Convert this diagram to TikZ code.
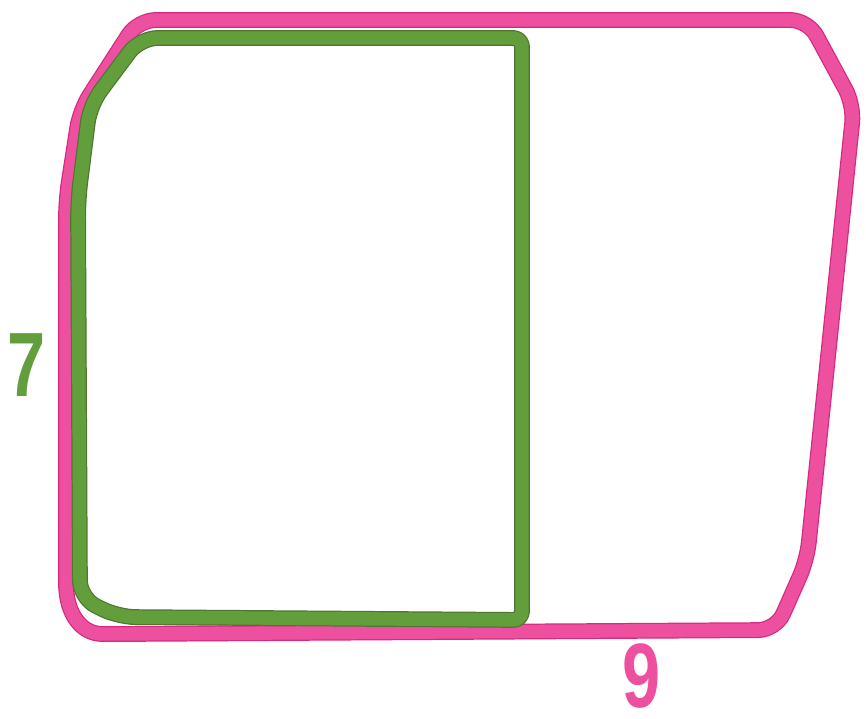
\documentclass[tikz,border=0pt]{standalone}
\usepackage{fontspec}
\newfontfamily\digitfont{Liberation Sans}
\definecolor{rimpink}{RGB}{238,80,160}
\definecolor{rimedge}{RGB}{214,40,128}
\definecolor{leafgreen}{RGB}{98,158,60}
\definecolor{leafedge}{RGB}{78,118,50}

\begin{document}
\begin{tikzpicture}[x=0.02cm,y=-0.02cm,
    outline/.style={line width=9pt, rounded corners=10pt, line join=round},
    stroke/.style={line width=7.6pt, rounded corners=10pt, line join=round},
    sidelabel/.style={inner sep=0pt, font=\digitfont\fontsize{52}{52}\selectfont\bfseries}]
    \useasboundingbox (0,0) rectangle (866,719);

    % outer shape
    \draw[outline, rimedge] (66,200) -- (80,110) -- (138,20) -- (808,20) -- (854,105)
        -- (807,560) -- (776,630) -- (120,634) .. controls (82,634) and (66,615) .. (66,565) -- cycle;
    \draw[stroke, rimpink] (66,200) -- (80,110) -- (138,20) -- (808,20) -- (854,105)
        -- (807,560) -- (776,630) -- (120,634) .. controls (82,634) and (66,615) .. (66,565) -- cycle;

    % inner rectangle
    \draw[outline, leafedge] (78,200) -- (90,105) -- (140,38) [rounded corners=5pt] -- (522,38)
        -- (522,620) [rounded corners=10pt] -- (118,617) -- (80,598) -- cycle;
    \draw[stroke, leafgreen] (78,200) -- (90,105) -- (140,38) [rounded corners=5pt] -- (522,38)
        -- (522,620) [rounded corners=10pt] -- (118,617) -- (80,598) -- cycle;

    \node[sidelabel, text=leafgreen] (height) at (27,365) {\scalebox{0.75}[1]{7}};
    \node[sidelabel, text=rimpink] (width) at (642,676) {\scalebox{0.75}[1]{9}};
\end{tikzpicture}
\end{document}
